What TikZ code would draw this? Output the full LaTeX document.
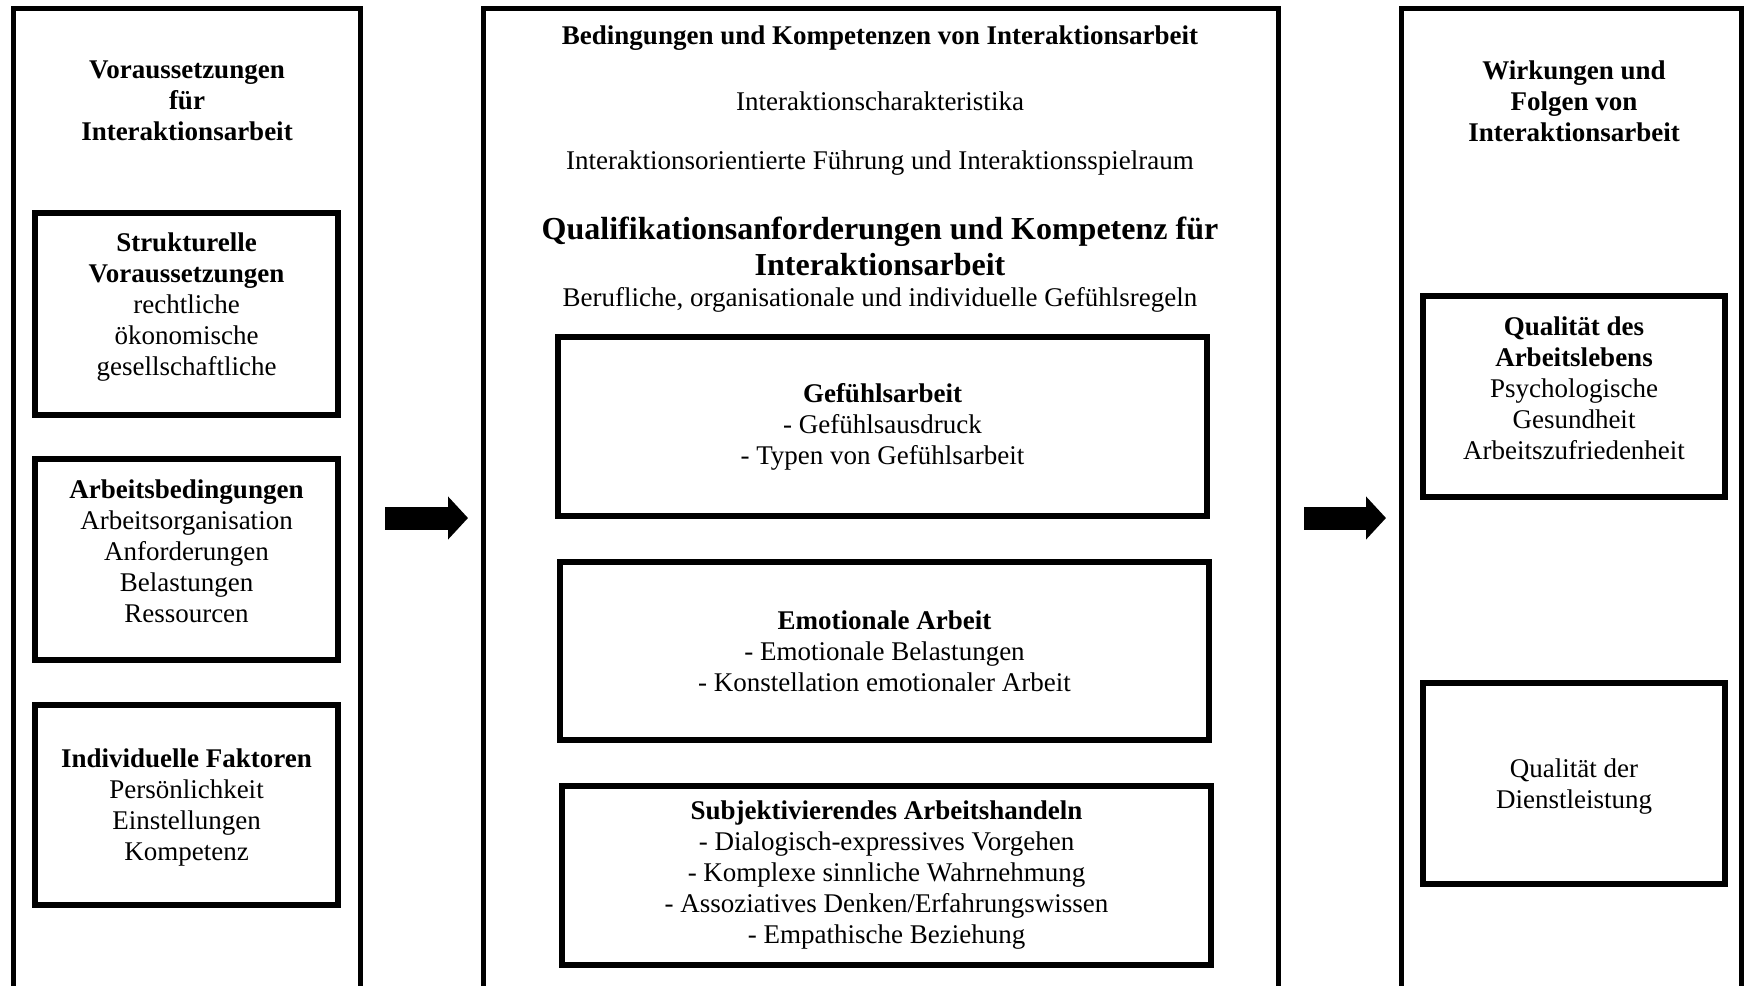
\documentclass[tikz,border=0pt]{standalone}
\usepackage{fontspec}
\setmainfont{Liberation Serif}
\usepackage{tikz}
\usetikzlibrary{arrows.meta,positioning}
\tikzstyle{outer} = [line width=2.5pt]
\tikzstyle{box} = [draw, line width=3pt, align=center, inner sep=2pt,
  font=\fontsize{13.5}{15.5}\selectfont]
\tikzstyle{txt} = [align=center, inner sep=0pt, font=\fontsize{13.5}{15.5}\selectfont]
\tikzstyle{bigarrow} = [line width=11.5pt, -{Triangle[length=10pt,width=21pt]}]

\begin{document}
\begin{tikzpicture}[x=0.5pt, y=-0.5pt]
\useasboundingbox (0,0) rectangle (1753,986);
% three columns, open at the bottom
\draw[outer] (13,986) -- (13,8) -- (360,8) -- (360,986);
\draw[outer] (483.5,986) -- (483.5,8) -- (1278.5,8) -- (1278.5,986);
\draw[outer] (1401.5,986) -- (1401.5,8) -- (1741.5,8) -- (1741.5,986);

% left column
\node[txt] (vorhead) at (187,101) {\textbf{Voraussetzungen}\\\textbf{für}\\\textbf{Interaktionsarbeit}};
\node[box, minimum width=151.5pt, minimum height=101pt, text depth=9.5pt] (struktur) at (186.5,314)
  {\textbf{Strukturelle}\\\textbf{Voraussetzungen}\\rechtliche\\ökonomische\\gesellschaftliche};
\node[box, minimum width=151.5pt, minimum height=100.5pt, text depth=8.5pt] (arbbed) at (186.5,559.5)
  {\textbf{Arbeitsbedingungen}\\Arbeitsorganisation\\Anforderungen\\Belastungen\\Ressourcen};
\node[box, minimum width=151.5pt, minimum height=100pt, text depth=-10pt] (indiv) at (186.5,805)
  {\textbf{Individuelle Faktoren}\\Persönlichkeit\\Einstellungen\\Kompetenz};

% middle column
\node[txt] (bedhead) at (880,38) {\textbf{Bedingungen und Kompetenzen von Interaktionsarbeit}};
\node[txt] (charak) at (880,101) {Interaktionscharakteristika};
\node[txt] (fuehrung) at (880,163) {Interaktionsorientierte Führung und Interaktionsspielraum};
\node[txt, font=\fontsize{16}{18}\selectfont] (quali) at (880,246)
  {\textbf{Qualifikationsanforderungen und Kompetenz für}\\\textbf{Interaktionsarbeit}};
\node[txt] (regeln) at (880,300) {Berufliche, organisationale und individuelle Gefühlsregeln};
\node[box, minimum width=324.5pt, minimum height=89.5pt] (gefuehl) at (882.5,426.5)
  {\textbf{Gefühlsarbeit}\\- Gefühlsausdruck\\- Typen von Gefühlsarbeit};
\node[box, minimum width=324.5pt, minimum height=89pt] (emotional) at (884.5,651)
  {\textbf{Emotionale Arbeit}\\- Emotionale Belastungen\\- Konstellation emotionaler Arbeit};
\node[box, minimum width=324.5pt, minimum height=89.5pt] (subjekt) at (886.5,875.5)
  {\textbf{Subjektivierendes Arbeitshandeln}\\- Dialogisch-expressives Vorgehen\\- Komplexe sinnliche Wahrnehmung\\- Assoziatives Denken/Erfahrungswissen\\- Empathische Beziehung};

% right column
\node[txt] (wirkhead) at (1574,101) {\textbf{Wirkungen und}\\\textbf{Folgen von}\\\textbf{Interaktionsarbeit}};
\node[box, minimum width=151pt, minimum height=100.5pt, text depth=8.5pt] (arbleben) at (1574,396.5)
  {\textbf{Qualität des}\\\textbf{Arbeitslebens}\\Psychologische\\Gesundheit\\Arbeitszufriedenheit};
\node[box, minimum width=151pt, minimum height=100.5pt, text depth=-8.5pt] (dienst) at (1574,783.5)
  {Qualität der\\Dienstleistung};

% arrows between the columns
\coordinate (pfeil1a) at (385,518);
\coordinate (pfeil1b) at (468,518);
\coordinate (pfeil2a) at (1304,518);
\coordinate (pfeil2b) at (1386,518);
\draw[bigarrow] (pfeil1a) -- (pfeil1b);
\draw[bigarrow] (pfeil2a) -- (pfeil2b);
\end{tikzpicture}
\end{document}
